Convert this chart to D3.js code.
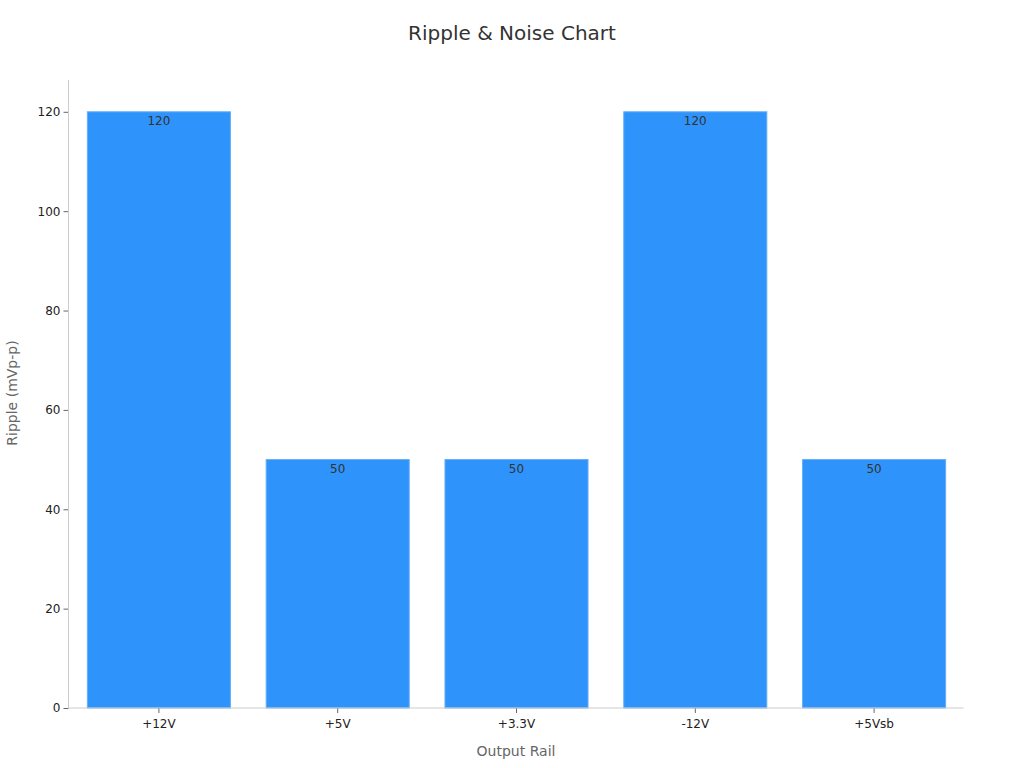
<!DOCTYPE html>
<html><head><meta charset="utf-8">
<script src="https://cdn.jsdelivr.net/npm/d3@7"></script>
<style>body{margin:0;background:#fff;font-family:"DejaVu Sans",sans-serif;}</style>
</head><body>
<svg id="c" width="1024" height="768"></svg>
<script>
const categories = ["+12V", "+5V", "+3.3V", "-12V", "+5Vsb"];
const values = [120, 50, 50, 120, 50];
const yTicks = [0, 20, 40, 60, 80, 100, 120];
const title = "Ripple & Noise Chart";
const xTitle = "Output Rail";
const yTitle = "Ripple (mVp-p)";

(function () {
const svg = d3.select("#c");
const mLeft = 68.5, mRight = 963.5, mBottom = 708, mTop = 80;
const x = d3.scaleBand().domain(categories).range([mLeft + 1, mRight]).paddingInner(0.2).paddingOuter(0.1);
const y = d3.scaleLinear().domain([0, 126.4]).range([mBottom, mTop]);

svg.append("text").attr("x", 512).attr("y", 40).attr("text-anchor", "middle")
  .attr("font-size", 20).attr("fill", "#333").text(title);

// bars
svg.append("g").selectAll("rect").data(values).join("rect")
  .attr("x", (d, i) => x(categories[i]))
  .attr("y", d => y(d))
  .attr("width", x.bandwidth())
  .attr("height", d => y(0) - y(d))
  .attr("fill", "#2e93fa")
  .attr("stroke", "#62adf8").attr("stroke-width", 1);

svg.append("g").selectAll("text").data(values).join("text")
  .attr("x", (d, i) => x(categories[i]) + x.bandwidth() / 2)
  .attr("y", d => y(d) + 13)
  .attr("text-anchor", "middle").attr("font-size", 12).attr("fill", "#333")
  .text(d => d);

// y axis
const ya = svg.append("g").attr("transform", `translate(${mLeft},0)`)
  .call(d3.axisLeft(y).tickValues(yTicks).tickSize(5).tickPadding(3));
ya.select(".domain").remove();
ya.selectAll(".tick line").attr("stroke", "#666");
ya.selectAll(".tick text").attr("font-size", 12).attr("fill", "#222").attr("font-family", "DejaVu Sans");
svg.append("line").attr("x1", mLeft).attr("x2", mLeft).attr("y1", y.range()[1]).attr("y2", mBottom)
  .attr("stroke", "#ccc");

// x axis
const xa = svg.append("g").attr("transform", `translate(0,${mBottom})`)
  .call(d3.axisBottom(x).tickSize(5).tickPadding(6));
xa.select(".domain").remove();
xa.selectAll(".tick line").attr("stroke", "#666");
xa.selectAll(".tick text").attr("font-size", 12).attr("fill", "#222").attr("font-family", "DejaVu Sans");
svg.append("line").attr("x1", mLeft).attr("x2", mRight).attr("y1", mBottom).attr("y2", mBottom)
  .attr("stroke", "#ccc");

svg.append("text").attr("x", (mLeft + mRight) / 2).attr("y", 756).attr("text-anchor", "middle")
  .attr("font-size", 14).attr("fill", "#666").text(xTitle);
svg.append("text").attr("transform", `translate(17,393) rotate(-90)`)
  .attr("text-anchor", "middle").attr("font-size", 14).attr("fill", "#666").text(yTitle);
})();
</script>
</body></html>
